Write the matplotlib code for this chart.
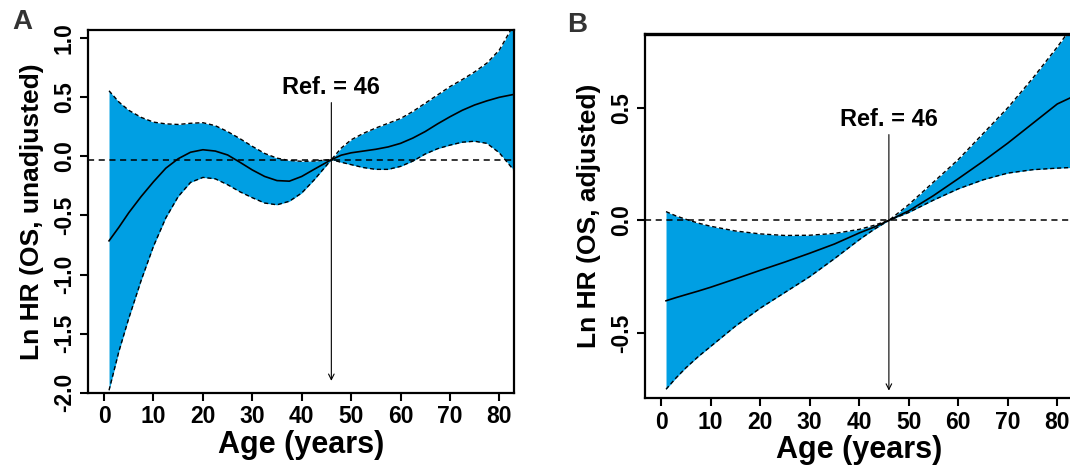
import matplotlib
matplotlib.use("Agg")
from matplotlib import pyplot as plt

plt.rcParams['font.family'] = ['Liberation Sans', 'DejaVu Sans']
plt.rcParams['font.weight'] = 'bold'

# panel A: unadjusted spline (age vs ln HR)
age_a = [1, 3, 5, 7.5, 10, 12.5, 15, 17.5, 20, 22.5, 25, 27.5, 30, 32.5, 35, 37.5, 40, 42.5,
         46, 48, 50, 52.5, 55, 57.5, 60, 62.5, 65, 67.5, 70, 72.5, 75, 77.5, 80, 83]
hr_a = [-0.715, -0.60, -0.477, -0.34, -0.215, -0.10, -0.02, 0.035, 0.056, 0.045, 0.012, -0.05,
        -0.115, -0.17, -0.205, -0.21, -0.17, -0.11, -0.028, 0.01, 0.03, 0.045, 0.06, 0.08,
        0.11, 0.155, 0.21, 0.275, 0.335, 0.39, 0.435, 0.47, 0.50, 0.525]
upper_a = [0.555, 0.46, 0.39, 0.33, 0.29, 0.275, 0.27, 0.28, 0.285, 0.26, 0.21, 0.15,
           0.085, 0.025, -0.015, -0.035, -0.042, -0.04, -0.028, 0.07, 0.14, 0.195, 0.24, 0.28,
           0.32, 0.38, 0.45, 0.52, 0.59, 0.65, 0.715, 0.79, 0.9, 1.12]
lower_a = [-1.98, -1.65, -1.37, -1.05, -0.76, -0.52, -0.34, -0.22, -0.178, -0.19, -0.24, -0.30,
           -0.35, -0.395, -0.41, -0.38, -0.31, -0.20, -0.028, -0.05, -0.07, -0.095, -0.11, -0.11,
           -0.085, -0.04, 0.02, 0.065, 0.095, 0.12, 0.128, 0.11, 0.03, -0.12]

# panel B: adjusted spline
age_b = [1, 3, 5, 7.5, 10, 15, 20, 25, 30, 35, 40, 43, 46, 50, 55, 60, 65, 70, 75, 80, 83]
hr_b = [-0.357, -0.343, -0.33, -0.314, -0.297, -0.26, -0.222, -0.185, -0.146, -0.105,
        -0.056, -0.03, 0, 0.042, 0.11, 0.185, 0.262, 0.343, 0.43, 0.517, 0.548]
upper_b = [0.039, 0.02, 0.005, -0.012, -0.026, -0.047, -0.06, -0.067, -0.066, -0.058,
           -0.04, -0.022, 0, 0.07, 0.17, 0.27, 0.385, 0.5, 0.63, 0.77, 0.86]
lower_b = [-0.75, -0.70, -0.655, -0.605, -0.56, -0.47, -0.39, -0.32, -0.25, -0.17,
           -0.086, -0.04, 0, 0.035, 0.09, 0.14, 0.18, 0.21, 0.225, 0.232, 0.235]

ref_age = 46
x_ticks = [0, 10, 20, 30, 40, 50, 60, 70, 80]
BLUE = '#009FE3'


def draw_panel(ax, x, y, lo, hi, ref_y, ylim, yticks, ylabel, text_y, arrow_top, arrow_tip):
    ax.fill_between(x, lo, hi, color=BLUE, lw=0)
    ax.plot(x, hi, color='black', lw=1.0, ls=(0, (3, 2)))
    ax.plot(x, lo, color='black', lw=1.0, ls=(0, (3, 2)))
    ax.plot(x, y, color='black', lw=1.2)
    ax.axhline(ref_y, color='black', lw=1.1, ls=(0, (4, 3)))
    ax.annotate('', xy=(ref_age, arrow_tip), xytext=(ref_age, arrow_top),
                arrowprops=dict(arrowstyle='->', lw=0.8, color='black',
                                shrinkA=0, shrinkB=0, mutation_scale=10))
    ax.text(ref_age, text_y, 'Ref. = 46', ha='center', va='center',
            fontsize=17, fontweight='bold')
    ax.set_xlim(-3.2, 83)
    ax.set_ylim(*ylim)
    ax.set_xticks(x_ticks)
    ax.set_yticks(yticks)
    ax.set_yticklabels([f'{v:.1f}' for v in yticks], rotation=90, va='center')
    ax.tick_params(direction='out', length=6, width=1.5, labelsize=16.5, pad=3)
    for s in ax.spines.values():
        s.set_linewidth(1.6)
    ax.set_xlabel('Age (years)', fontsize=22, fontweight='bold', labelpad=1)
    ax.set_ylabel(ylabel, fontsize=19, fontweight='bold', labelpad=6)


fig = plt.figure(figsize=(10.7, 4.68), dpi=100)

ax_a = fig.add_axes([0.0825, 0.161, 0.398, 0.775])
draw_panel(ax_a, age_a, hr_a, lower_a, upper_a, -0.028, (-2.0, 1.07),
           [-2.0, -1.5, -1.0, -0.5, 0.0, 0.5, 1.0], 'Ln HR (OS, unadjusted)',
           0.58, 0.455, -1.9)

ax_b = fig.add_axes([0.603, 0.149, 0.399, 0.778])
draw_panel(ax_b, age_b, hr_b, lower_b, upper_b, 0.0, (-0.79, 0.827),
           [-0.5, 0.0, 0.5], 'Ln HR (OS, adjusted)',
           0.449, 0.381, -0.756)
ax_b.spines['top'].set_linewidth(2.4)

fig.text(0.021, 0.953, 'A', fontsize=20, fontweight='bold', ha='center', va='center', color='#333333')
fig.text(0.539, 0.947, 'B', fontsize=20, fontweight='bold', ha='center', va='center', color='#333333')

fig.savefig('out.png', dpi=100)
